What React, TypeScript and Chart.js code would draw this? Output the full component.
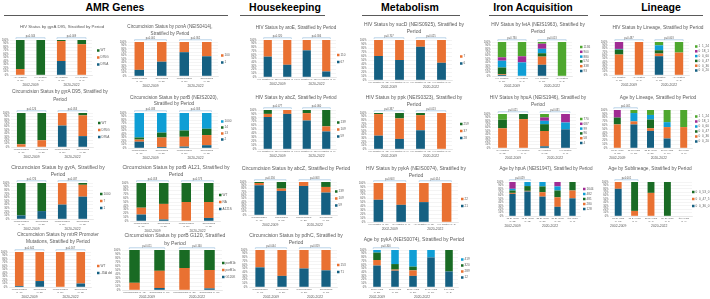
import React, { useEffect, useRef } from "react";
import { Chart, registerables } from "chart.js";

Chart.register(...registerables);

const FONT = "'Liberation Sans', Arial, sans-serif";
const TEXT = "#595959";
const BLUE = "#156082";
const ORANGE = "#E97132";
const DGREEN = "#196B24";
const LBLUE = "#0F9ED5";
const PURPLE = "#A02B93";
const LGREEN = "#4EA72E";
const PALETTE = [BLUE, ORANGE, DGREEN, LBLUE, PURPLE, LGREEN];

Chart.defaults.font.family = FONT;

// ---- category labels ----
const periods = ["2002-2009", "2020-2022"];
const hivLabels = ["HIV negative (n=75)", "HIV positive (n=6)", "HIV negative (n=68)", "HIV positive (n=8)"];
const circLabels = ["Uncircumcised (n=48)", "Circumcised (n=57)", "Uncircumcised (n=20)", "Circumcised (n=78)"];
const ageLabels = ["18-24 years (n=33)", "18-24 years (n=12)", "25-29 years (n=26)", "30-39 years (n=16)", "≥40 years (n=3)"];
const ageLabelsSub = ["18-24 years (n=12)", "18-24 years (n=7)", "25-29 years (n=6)", "30-39 years (n=7)", "≥40 years (n=0)"];

// ---- AMR genes ----
const gyrD95Keys = ["D95A", "D95G", "WT"];
const gyrD95Hiv_D95A = [0, 0, 40, 0];
const gyrD95Hiv_D95G = [17, 0, 57, 88];
const gyrD95Hiv_WT = [83, 100, 3, 12];
const gyrD95HivP = ["p=0.344", "p=0.009"];

const gyrD95Circ_D95A = [0, 0, 63, 32];
const gyrD95Circ_D95G = [8, 20, 37, 61];
const gyrD95Circ_WT = [92, 80, 0, 7];
const gyrD95CircP = ["p=0.126", "p=0.053"];

const gyrAKeys = ["1", "7", "1000"];
const gyrACirc_1 = [10, 22, 40, 62];
const gyrACirc_7 = [0, 0, 60, 33];
const gyrACirc_1000 = [90, 78, 0, 5];
const gyrACircP = ["p=0.726", "p=0.037"];

const mtrRKeys = ["-35A del", "WT"];
const mtrRCirc_del = [3, 17, 0, 10];
const mtrRCirc_WT = [97, 83, 100, 90];
const mtrRCircP = ["p=0.642", "p=0.167"];

const ponAKeys = ["1", "100"];
const ponACirc_1 = [18, 42, 70, 58];
const ponACirc_100 = [82, 58, 30, 42];
const ponACircP = ["p=0.001", "p=0.362"];

const porBKeys = ["2", "13", "14", "1000"];
const porBCirc_2 = [18, 3, 4, 8];
const porBCirc_13 = [6, 27, 28, 29];
const porBCirc_14 = [6, 14, 18, 18];
const porBCirc_1000 = [70, 56, 50, 45];
const porBCircP = ["p=0.033", "p=0.303"];

const a121Keys = ["A121S", "NA", "WT"];
const a121Circ_S = [17, 4, 0, 8];
const a121Circ_NA = [18, 41, 50, 42];
const a121Circ_WT = [65, 55, 50, 50];
const a121CircP = ["p=0.018", "p=0.573"];

const g120Keys = ["G120K", "porB1a", "porB1b"];
const g120Circ_K = [0, 5, 0, 4];
const g120Circ_1a = [18, 43, 55, 46];
const g120Circ_1b = [82, 52, 45, 50];
const g120CircP = ["p=0.011", "p=0.160"];

// ---- Housekeeping ----
const aroEKeys = ["67", "110"];
const aroEHiv_67 = [55, 33, 72, 15];
const aroEHiv_110 = [45, 67, 28, 85];
const aroEHivP = ["p=0.320", "p=0.306"];

const abcZKeys = ["59", "109", "139"];
const abcZHiv_59 = [82, 90, 73, 45];
const abcZHiv_109 = [8, 10, 19, 13];
const abcZHiv_139 = [10, 0, 8, 42];
const abcZHivP = ["p=0.477", "p=0.060"];

const abcZCirc_59 = [90, 73, 88, 68];
const abcZCirc_109 = [7, 7, 12, 17];
const abcZCirc_139 = [3, 20, 0, 15];
const abcZCircP = ["p=0.556", "p=0.063"];

const pdhCKeys = ["71", "153"];
const pdhCCirc_71 = [53, 30, 50, 45];
const pdhCCirc_153 = [47, 70, 50, 55];
const pdhCCircP = ["p=0.044", "p=0.819"];

// ---- Metabolism ----
const sucDKeys = ["6", "7"];
const sucDHiv_6 = [60, 50, 83, 43];
const sucDHiv_7 = [40, 50, 17, 57];
const sucDHivP = ["p=0.707", "p=0.025"];

const ppkKeys = ["28", "37", "259"];
const ppkHiv_28 = [37, 28, 52, 0];
const ppkHiv_37 = [60, 57, 42, 100];
const ppkHiv_259 = [3, 15, 6, 0];
const ppkHivP = ["p=0.337", "p=0.013"];

const pykAKeys = ["21", "22"];
const pykAHiv_21 = [57, 44, 51, 0];
const pykAHiv_22 = [43, 56, 49, 100];
const pykAHivP = ["p=0.603", "p=0.014"];

const pykAAgeKeys = ["12", "289", "320", "419"];
const pykAAge_12 = [58, 44, 30, 80, 42];
const pykAAge_289 = [15, 3, 15, 0, 0];
const pykAAge_320 = [20, 15, 10, 0, 58];
const pykAAge_419 = [7, 38, 45, 20, 0];
const pykAAgeP = ["p=0.300"];

// ---- Iron acquisition ----
const fetAKeys = ["93", "338", "574", "880", "900", "1136"];
const fetAHiv_93 = [3, 0, 33, 0];
const fetAHiv_338 = [2, 0, 24, 0];
const fetAHiv_574 = [20, 0, 10, 0];
const fetAHiv_880 = [20, 40, 13, 0];
const fetAHiv_900 = [10, 18, 15, 0];
const fetAHiv_1136 = [45, 42, 5, 100];
const fetAHivP = ["p=0.730", "p=0.013"];

const hpu46Keys = ["4", "58", "96", "99", "687", "770"];
const hpu46Hiv_4 = [0, 0, 5, 55];
const hpu46Hiv_58 = [58, 85, 45, 0];
const hpu46Hiv_96 = [25, 15, 20, 0];
const hpu46Hiv_99 = [0, 0, 10, 20];
const hpu46Hiv_687 = [0, 0, 10, 25];
const hpu46Hiv_770 = [17, 0, 10, 0];
const hpu46HivP = ["p=0.021", "p=0.031"];

const hpu47Keys = ["128", "280", "481", "482", "1644"];
const hpu47Age_128 = [65, 72, 57, 27, 52];
const hpu47Age_280 = [3, 2, 13, 28, 23];
const hpu47Age_481 = [7, 14, 17, 20, 25];
const hpu47Age_482 = [5, 12, 13, 12, 0];
const hpu47Age_1644 = [20, 0, 0, 13, 0];
const hpu47AgeP = ["p=0.029"];

// ---- Lineage ----
const lineageKeys = ["0_0_20", "0_0_36", "0_0_47", "0_0_60", "0_18_1", "1_1_24"];
const linHiv_020 = [0, 0, 57, 0];
const linHiv_036 = [62, 100, 8, 68];
const linHiv_047 = [15, 0, 10, 0];
const linHiv_060 = [2, 0, 15, 0];
const linHiv_181 = [21, 0, 0, 0];
const linHiv_124 = [0, 0, 10, 32];
const linHivP = ["p=0.487", "p=0.003"];

const linAge_020 = [0, 62, 45, 25, 0];
const linAge_036 = [62, 8, 7, 30, 55];
const linAge_047 = [18, 0, 23, 0, 0];
const linAge_060 = [0, 22, 12, 13, 0];
const linAge_181 = [20, 0, 0, 0, 0];
const linAge_124 = [0, 8, 13, 32, 45];
const linAgeP = ["p=0.001"];

const subKeys = ["0_0_36_0", "0_0_47_5", "0_0_53_0"];
const subAge_360 = [80, 0, 0, 0, null];
const subAge_475 = [20, 15, 68, 0, null];
const subAge_530 = [0, 85, 32, 100, null];
const subAgeP = ["p=0.001"];

type Span = [number, number];
type Panel = {
  col: [number, number];
  area: [number, number, number, number];
  title: string[];
  titleY: number[];
  titleX: number;
  titleSize: number;
  labels: string[];
  twoLine: boolean;
  keys: string[];
  series: (number | null)[][];
  pvals: string[];
  legendX: number;
  legendGap: number;
};

const A1: [number, number] = [0, 112];
const A2: [number, number] = [112, 240];
const HK: [number, number] = [238, 352];
const MT: [number, number] = [350, 474];
const IR: [number, number] = [472, 594];
const LN: [number, number] = [592, 710];

const panels: Panel[] = [
  { col: A1, area: [10, 40, 92, 75], title: ["HIV Status by gyrA D95, Stratified by Period"], titleY: [27], titleX: 62, titleSize: 4.3, labels: hivLabels, twoLine: true, keys: gyrD95Keys, series: [gyrD95Hiv_D95A, gyrD95Hiv_D95G, gyrD95Hiv_WT], pvals: gyrD95HivP, legendX: 97, legendGap: 7 },
  { col: A1, area: [11, 113, 93, 147], title: ["Circumcision Status by gyrA D95, Stratified by", "Period"], titleY: [92, 99.5], titleX: 60, titleSize: 4.7, labels: circLabels, twoLine: true, keys: gyrD95Keys, series: [gyrD95Circ_D95A, gyrD95Circ_D95G, gyrD95Circ_WT], pvals: gyrD95CircP, legendX: 98, legendGap: 7 },
  { col: A1, area: [11, 183, 93, 219], title: ["Circumcision Status by gyrA, Stratified by", "Period"], titleY: [167.5, 174.5], titleX: 58, titleSize: 5.1, labels: circLabels, twoLine: true, keys: gyrAKeys, series: [gyrACirc_1, gyrACirc_7, gyrACirc_1000], pvals: gyrACircP, legendX: 100, legendGap: 7 },
  { col: A1, area: [9, 252, 91, 287], title: ["Circumcision Status by mtrR Promoter", "Mutations, Stratified by Period"], titleY: [235, 242], titleX: 58, titleSize: 4.8, labels: circLabels, twoLine: true, keys: mtrRKeys, series: [mtrRCirc_del, mtrRCirc_WT], pvals: mtrRCircP, legendX: 97, legendGap: 7 },

  { col: A2, area: [128, 42, 218, 76], title: ["Circumcision Status by ponA (NEIS0414),", "Stratified by Period"], titleY: [27, 33.5], titleX: 170, titleSize: 4.6, labels: circLabels, twoLine: true, keys: ponAKeys, series: [ponACirc_1, ponACirc_100], pvals: ponACircP, legendX: 221, legendGap: 7 },
  { col: A2, area: [128, 113, 218, 148], title: ["Circumcision Status by porB (NEIS2020),", "Stratified by Period"], titleY: [97.5, 104], titleX: 174, titleSize: 4.8, labels: circLabels, twoLine: true, keys: porBKeys, series: [porBCirc_2, porBCirc_13, porBCirc_14, porBCirc_1000], pvals: porBCircP, legendX: 221, legendGap: 6 },
  { col: A2, area: [130, 183, 220, 221], title: ["Circumcision Status by porB A121, Stratified by", "Period"], titleY: [168, 175], titleX: 176, titleSize: 5.1, labels: circLabels, twoLine: true, keys: a121Keys, series: [a121Circ_S, a121Circ_NA, a121Circ_WT], pvals: a121CircP, legendX: 219, legendGap: 7 },
  { col: A2, area: [122, 250, 222, 290], title: ["Circumcision Status by porB G120, Stratified", "by Period"], titleY: [236, 244], titleX: 175, titleSize: 5.1, labels: circLabels, twoLine: false, keys: g120Keys, series: [g120Circ_K, g120Circ_1a, g120Circ_1b], pvals: g120CircP, legendX: 222, legendGap: 7 },

  { col: HK, area: [258, 40, 336, 77], title: ["HIV Status by aroE, Stratified by Period"], titleY: [28], titleX: 296, titleSize: 4.6, labels: hivLabels, twoLine: false, keys: aroEKeys, series: [aroEHiv_67, aroEHiv_110], pvals: aroEHivP, legendX: 337, legendGap: 7 },
  { col: HK, area: [258, 110, 336, 149], title: ["HIV Status by abcZ, Stratified by Period"], titleY: [98], titleX: 296, titleSize: 4.6, labels: hivLabels, twoLine: false, keys: abcZKeys, series: [abcZHiv_59, abcZHiv_109, abcZHiv_139], pvals: abcZHivP, legendX: 337, legendGap: 7 },
  { col: HK, area: [248, 182, 337, 215], title: ["Circumcision Status by abcZ, Stratified by Period"], titleY: [169], titleX: 296, titleSize: 5.0, labels: circLabels, twoLine: true, keys: abcZKeys, series: [abcZCirc_59, abcZCirc_109, abcZCirc_139], pvals: abcZCircP, legendX: 335, legendGap: 7 },
  { col: HK, area: [249, 250, 337, 287], title: ["Circumcision Status by pdhC, Stratified by", "Period"], titleY: [236, 242.5], titleX: 296, titleSize: 5.0, labels: circLabels, twoLine: true, keys: pdhCKeys, series: [pdhCCirc_71, pdhCCirc_153], pvals: pdhCCircP, legendX: 337, legendGap: 7 },

  { col: MT, area: [368, 40, 452, 80], title: ["HIV Status by sucD (NEIS0925), Stratified by", "Period"], titleY: [25, 32], titleX: 414, titleSize: 5.0, labels: hivLabels, twoLine: false, keys: sucDKeys, series: [sucDHiv_6, sucDHiv_7], pvals: sucDHivP, legendX: 460, legendGap: 7 },
  { col: MT, area: [368, 113, 452, 149], title: ["HIV Status by ppk (NEIS0323), Stratified by", "Period"], titleY: [98, 104.5], titleX: 414, titleSize: 5.0, labels: hivLabels, twoLine: false, keys: ppkKeys, series: [ppkHiv_28, ppkHiv_37, ppkHiv_259], pvals: ppkHivP, legendX: 460, legendGap: 7 },
  { col: MT, area: [367, 183, 458, 222], title: ["HIV Status by pykA (NEIS0074), Stratified by", "Period"], titleY: [169, 175.5], titleX: 416, titleSize: 5.0, labels: hivLabels, twoLine: false, keys: pykAKeys, series: [pykAHiv_21, pykAHiv_22], pvals: pykAHivP, legendX: 461, legendGap: 7 },
  { col: MT, area: [368, 250, 458, 287], title: ["Age by pykA (NEIS0074), Stratified by Period"], titleY: [240], titleX: 414, titleSize: 5.0, labels: ageLabels, twoLine: true, keys: pykAAgeKeys, series: [pykAAge_12, pykAAge_289, pykAAge_320, pykAAge_419], pvals: pykAAgeP, legendX: 461, legendGap: 6 },

  { col: IR, area: [492, 42, 572, 76], title: ["HIV Status by fetA (NEIS1963), Stratified by", "Period"], titleY: [25, 32], titleX: 538, titleSize: 4.8, labels: hivLabels, twoLine: true, keys: fetAKeys, series: [fetAHiv_93, fetAHiv_338, fetAHiv_574, fetAHiv_880, fetAHiv_900, fetAHiv_1136], pvals: fetAHivP, legendX: 580, legendGap: 4.8 },
  { col: IR, area: [492, 114, 576, 148], title: ["HIV Status by hpuA (NEIS1946), Stratified by", "Period"], titleY: [98, 105], titleX: 538, titleSize: 4.8, labels: hivLabels, twoLine: true, keys: hpu46Keys, series: [hpu46Hiv_4, hpu46Hiv_58, hpu46Hiv_96, hpu46Hiv_99, hpu46Hiv_687, hpu46Hiv_770], pvals: hpu46HivP, legendX: 580, legendGap: 4.8 },
  { col: IR, area: [505, 182, 580, 216], title: ["Age by hpuA (NEIS1947), Stratified by Period"], titleY: [169], titleX: 546, titleSize: 4.6, labels: ageLabels, twoLine: true, keys: hpu47Keys, series: [hpu47Age_128, hpu47Age_280, hpu47Age_481, hpu47Age_482, hpu47Age_1644], pvals: hpu47AgeP, legendX: 583, legendGap: 5 },

  { col: LN, area: [609, 42, 689, 75], title: ["HIV Status by Lineage, Stratified by Period"], titleY: [28], titleX: 658, titleSize: 4.8, labels: hivLabels, twoLine: true, keys: lineageKeys, series: [linHiv_020, linHiv_036, linHiv_047, linHiv_060, linHiv_181, linHiv_124], pvals: linHivP, legendX: 695, legendGap: 4.8 },
  { col: LN, area: [609, 110, 692, 148], title: ["Age by Lineage, Stratified by Period"], titleY: [98], titleX: 658, titleSize: 4.8, labels: ageLabels, twoLine: true, keys: lineageKeys, series: [linAge_020, linAge_036, linAge_047, linAge_060, linAge_181, linAge_124], pvals: linAgeP, legendX: 695, legendGap: 5 },
  { col: LN, area: [610, 182, 692, 216], title: ["Age by Sublineage, Stratified by Period"], titleY: [169], titleX: 650, titleSize: 4.8, labels: ageLabelsSub, twoLine: true, keys: subKeys, series: [subAge_360, subAge_475, subAge_530], pvals: subAgeP, legendX: 692, legendGap: 7 },
];

const sections = [
  { name: "AMR Genes", cx: 115, line: [4, 228] },
  { name: "Housekeeping", cx: 285, line: [240, 325] },
  { name: "Metabolism", cx: 410, line: [362, 460] },
  { name: "Iron Acquisition", cx: 533, line: [489, 588] },
  { name: "Lineage", cx: 661, line: [600, 703] },
];

const Y_W = 8.5;
const BAR_PCT = 0.42;

function splitLabel(s: string, two: boolean): string[] | string {
  if (!two) return s;
  const i = s.lastIndexOf(" (");
  return i > 0 ? [s.slice(0, i), s.slice(i + 1)] : s;
}

function PanelChart({ p }: { p: Panel }) {
  const ref = useRef<HTMLCanvasElement | null>(null);
  const bx = p.col[0];
  const bw = p.col[1] - p.col[0];
  const by = p.area[1] - 26;
  const bh = p.area[3] + 15 - by;

  useEffect(() => {
    const canvas = ref.current;
    if (!canvas) return;
    const n = p.labels.length;
    const xH = p.twoLine ? 7 : 4;
    const [l, t, r, b] = p.area;
    const ageMode = n === 5;
    const periodSpans: Span[] = ageMode ? [[0, 0], [1, 4]] : [[0, 1], [2, 3]];
    const bracketSpans: Span[] = ageMode ? [[0, 1]] : [[0, 1], [2, 3]];

    const decor = {
      id: "decor",
      afterDraw(chart: any) {
        const ctx = chart.ctx as CanvasRenderingContext2D;
        const xs = chart.scales.x;
        const area = chart.chartArea;
        const cw = (area.right - area.left) / n;
        const half = (cw * BAR_PCT) / 2;
        ctx.save();
        // title
        ctx.fillStyle = TEXT;
        ctx.textAlign = "center";
        ctx.textBaseline = "middle";
        ctx.font = `${p.titleSize}px ${FONT}`;
        p.title.forEach((line, i) => ctx.fillText(line, p.titleX - bx, p.titleY[i] - by));
        // significance brackets
        p.pvals.forEach((txt, i) => {
          const [f, to] = bracketSpans[i];
          const x1 = xs.getPixelForValue(f) - half;
          const x2 = xs.getPixelForValue(to) + half;
          const y = area.top - 2.2;
          ctx.strokeStyle = "#9cc2e0";
          ctx.lineWidth = 0.7;
          ctx.beginPath();
          ctx.moveTo(x1, y + 1);
          ctx.lineTo(x1, y);
          ctx.lineTo(x2, y);
          ctx.lineTo(x2, y + 1);
          ctx.stroke();
          ctx.fillStyle = TEXT;
          ctx.font = `2.6px ${FONT}`;
          ctx.fillText(txt, (x1 + x2) / 2, y - 1.6);
        });
        // period labels under the category axis
        ctx.font = `3.4px ${FONT}`;
        ctx.fillStyle = TEXT;
        periodSpans.forEach(([f, to], i) => {
          const cx = (xs.getPixelForValue(f) + xs.getPixelForValue(to)) / 2;
          ctx.fillText(periods[i], cx, area.bottom + xH + 3.5);
        });
        // legend, last series on top
        const cy = (area.top + area.bottom) / 2;
        const k = p.keys.length;
        ctx.font = `3.1px ${FONT}`;
        ctx.textAlign = "left";
        for (let j = 0; j < k; j++) {
          const si = k - 1 - j;
          const y = cy + (j - (k - 1) / 2) * p.legendGap;
          const lx = p.legendX - bx;
          ctx.fillStyle = PALETTE[si];
          ctx.fillRect(lx, y - 1.25, 2.5, 2.5);
          ctx.fillStyle = TEXT;
          ctx.fillText(p.keys[si], lx + 3.6, y + 0.1);
        }
        ctx.restore();
      },
    };

    const chart = new Chart(canvas, {
      type: "bar",
      data: {
        labels: p.labels.map((s) => splitLabel(s, p.twoLine)),
        datasets: p.series.map((d, i) => ({
          label: p.keys[i],
          data: d,
          backgroundColor: PALETTE[i],
          borderWidth: 0,
          barPercentage: BAR_PCT,
          categoryPercentage: 1,
        })),
      },
      options: {
        responsive: false,
        animation: false,
        devicePixelRatio: 1,
        events: [],
        layout: {
          padding: {
            left: l - bx - Y_W,
            right: bx + bw - r,
            top: t - by,
            bottom: by + bh - b - xH,
          },
        },
        plugins: {
          legend: { display: false },
          title: { display: false },
          tooltip: { enabled: false },
        },
        scales: {
          x: {
            stacked: true,
            grid: { display: false, drawTicks: false },
            border: { color: "#d9d9d9", width: 0.5 },
            ticks: { font: { size: 2.3 }, color: TEXT, padding: 1, maxRotation: 0, minRotation: 0, autoSkip: false },
            afterFit: (s: any) => {
              s.height = xH;
            },
          },
          y: {
            stacked: true,
            min: 0,
            max: 100,
            ticks: {
              stepSize: 10,
              autoSkip: false,
              font: { size: 2.6 },
              color: TEXT,
              padding: 1.5,
              callback: (v: any) => `${v}%`,
            },
            grid: { color: "#e4e4e4", lineWidth: 0.4, drawTicks: false },
            border: { display: false },
            afterFit: (s: any) => {
              s.width = Y_W;
            },
          },
        },
      },
      plugins: [decor],
    } as any);
    return () => chart.destroy();
  }, [p]);

  return (
    <canvas
      ref={ref}
      width={bw}
      height={bh}
      style={{ position: "absolute", left: bx, top: by, width: bw, height: bh }}
    />
  );
}

export default function App() {
  return (
    <div
      style={{
        position: "fixed",
        left: 0,
        top: 0,
        width: 710,
        height: 299,
        background: "#ffffff",
        overflow: "hidden",
      }}
    >
      {sections.map((s) => (
        <React.Fragment key={s.name}>
          <div
            style={{
              position: "absolute",
              left: s.cx - 60,
              width: 120,
              top: 1,
              textAlign: "center",
              font: `bold 10.5px ${FONT}`,
              color: "#000",
              lineHeight: "12px",
            }}
          >
            {s.name}
          </div>
          <div
            style={{
              position: "absolute",
              left: s.line[0],
              width: s.line[1] - s.line[0],
              top: 15,
              height: 1,
              background: "#5a5a5a",
            }}
          />
        </React.Fragment>
      ))}
      {panels.map((p, i) => (
        <PanelChart key={i} p={p} />
      ))}
    </div>
  );
}
